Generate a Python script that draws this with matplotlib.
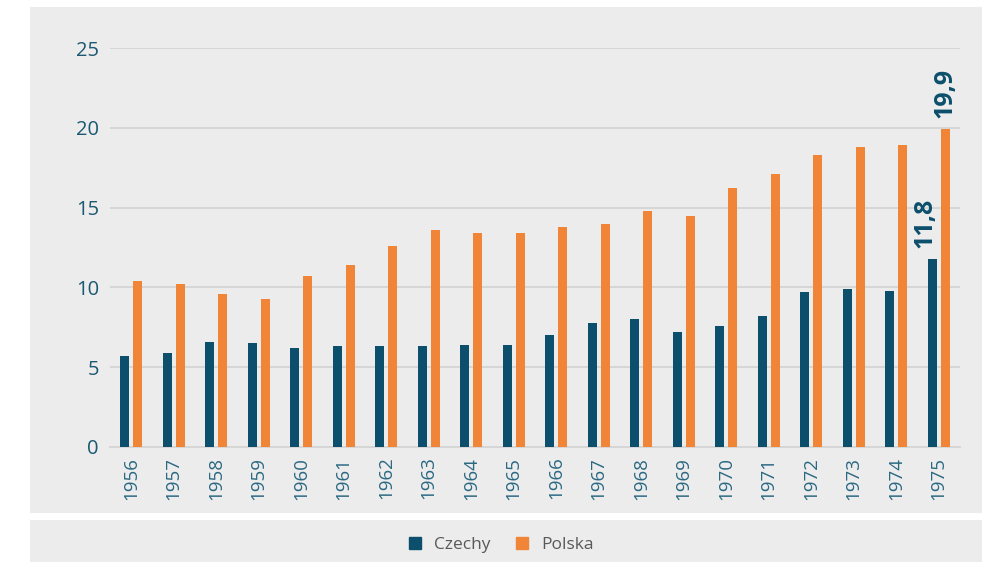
import matplotlib
matplotlib.use('Agg')
import matplotlib.pyplot as plt
import numpy as np
from matplotlib.patches import Rectangle
from matplotlib.lines import Line2D

plt.rcParams.update({'font.family': ['Open Sans', 'DejaVu Sans']})

years = [str(y) for y in range(1956, 1976)]
czechy = [5.7, 5.9, 6.6, 6.5, 6.2, 6.3, 6.3, 6.3, 6.4, 6.4,
          7.0, 7.8, 8.0, 7.2, 7.6, 8.2, 9.7, 9.9, 9.8, 11.8]
polska = [10.4, 10.2, 9.6, 9.3, 10.7, 11.4, 12.6, 13.6, 13.4, 13.4,
          13.8, 14.0, 14.8, 14.5, 16.2, 17.1, 18.3, 18.8, 18.9, 19.9]
yticks = [0, 5, 10, 15, 20, 25]

dark = '#0B4F6C'
orange = '#F08538'
panel = '#ECECEC'
grid = '#D6D6D6'

W, H = 982, 562
fig = plt.figure(figsize=(W / 100, H / 100), dpi=100)
fig.patch.set_facecolor('white')

# grey panels behind the chart and the legend
fig.patches.append(Rectangle((30 / W, (H - 513) / H), 1 - 30 / W, (513 - 7) / H,
                             transform=fig.transFigure, facecolor=panel, edgecolor='none', zorder=-5))
fig.patches.append(Rectangle((30 / W, 0), 1 - 30 / W, (H - 520) / H,
                             transform=fig.transFigure, facecolor=panel, edgecolor='none', zorder=-5))

ax = fig.add_axes([110 / W, (H - 447) / H, 850 / W, (447 - 48) / H])
ax.set_facecolor('none')
ax.set_zorder(2)

x = np.arange(len(years))
w = 0.22
off = 0.153
ax.bar(x - off, czechy, w, color=dark, zorder=3)
ax.bar(x + off, polska, w, color=orange, zorder=3)

ax.set_xlim(-0.5, len(years) - 0.5)
ax.set_ylim(0, 25)
ax.set_yticks(yticks)
ax.yaxis.grid(True, color=grid, linewidth=1.4, zorder=0)
ax.set_axisbelow(True)
for s in ['top', 'right', 'left']:
    ax.spines[s].set_visible(False)
ax.spines['bottom'].set_color(grid)
ax.spines['bottom'].set_linewidth(1.4)

ax.set_xticks(x)
ax.set_xticklabels(years, rotation=90)
ax.tick_params(axis='x', length=0, pad=7, labelsize=13.5, labelcolor='#2A6882')
ax.tick_params(axis='y', length=0, pad=8, labelsize=14.5, labelcolor='#1B5872')

ax.annotate('11,8', (x[-1] - off, czechy[-1]), xytext=(-5, 8), textcoords='offset points',
            rotation=90, ha='center', va='bottom', fontsize=18, fontweight='bold',
            color=dark, annotation_clip=False)
ax.annotate('19,9', (x[-1] + off, polska[-1]), xytext=(0, 8), textcoords='offset points',
            rotation=90, ha='center', va='bottom', fontsize=18, fontweight='bold',
            color=dark, annotation_clip=False)

handles = [Line2D([], [], marker='s', linestyle='none', markersize=9, color=dark),
           Line2D([], [], marker='s', linestyle='none', markersize=9, color=orange)]
fig.legend(handles, ['Czechy', 'Polska'], loc='center', bbox_to_anchor=(500 / W, (H - 545) / H),
           ncol=2, frameon=False, fontsize=12.5, labelcolor='#595959',
           handletextpad=0.6, columnspacing=1.3, handlelength=1.0)

fig.savefig('out.png', dpi=100, facecolor='white')
